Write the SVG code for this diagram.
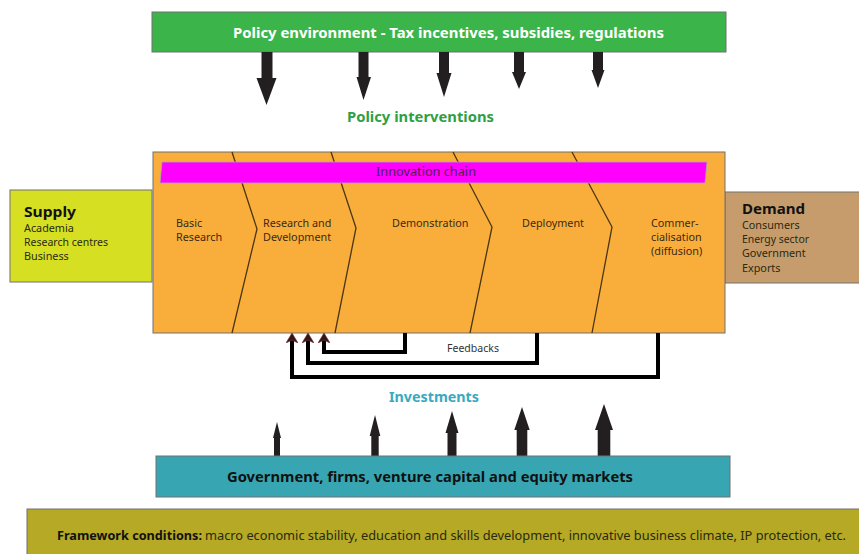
<svg xmlns="http://www.w3.org/2000/svg" width="859" height="554" viewBox="0 0 859 554">
<defs>
<style>
text{font-family:"Noto Sans","Open Sans","Liberation Sans",sans-serif}
.box{stroke:#707070;stroke-width:1}
.bold{font-weight:bold}
.stage{font-size:10.8px;fill:#3b2a12}
.side{font-size:10.8px;fill:#2a2a10}
.arrow{fill:#231f20}
.fb{fill:none;stroke:#000;stroke-width:4}
.div{fill:none;stroke:#4a3515;stroke-width:1.3}
</style>
<marker id="fbhead" viewBox="0 0 10 10" refX="3" refY="5" markerWidth="2.5" markerHeight="3" preserveAspectRatio="none" orient="auto" markerUnits="strokeWidth">
<path d="M0,0 L10,5 L0,10 L3,5 Z" fill="#2a1a1a" stroke="#8a2a2a" stroke-width="0.6"/>
</marker>
</defs>
<rect width="859" height="554" fill="#ffffff"/>

<g id="policy-environment">
<rect class="box" x="152" y="12" width="574" height="40" fill="#3bb54a"/>
<text x="233" y="38" class="bold" font-size="15" fill="#ffffff" textLength="431" lengthAdjust="spacingAndGlyphs">Policy environment - Tax incentives, subsidies, regulations</text>
</g>

<g id="policy-arrows">
<polygon class="arrow" points="261.5,52 272.5,52 272.5,78 276.5,78 266.5,105 256.5,78 261.5,78"/>
<polygon class="arrow" points="358.5,52 368.5,52 368.5,77 371,77 363.5,100 356.5,77 358.5,77"/>
<polygon class="arrow" points="439,52 449,52 449,73 451.5,73 444,97 436.5,73 439,73"/>
<polygon class="arrow" points="514,52 524,52 524,72 526,72 519,89 512,72 514,72"/>
<polygon class="arrow" points="593,52 603,52 603,70 604.5,70 598,88 591.5,70 593,70"/>
</g>

<g id="policy-interventions">
<text x="347" y="122" class="bold" font-size="15" fill="#2e9f45" textLength="147" lengthAdjust="spacingAndGlyphs">Policy interventions</text>
</g>

<g id="supply">
<rect class="box" x="10" y="190" width="142" height="92" fill="#d7df23"/>
<text x="24" y="217" class="bold" font-size="14" fill="#111" textLength="52" lengthAdjust="spacingAndGlyphs">Supply</text>
<text x="24" y="232" class="side">Academia</text>
<text x="24" y="246" class="side" textLength="84" lengthAdjust="spacingAndGlyphs">Research centres</text>
<text x="24" y="260" class="side">Business</text>
</g>

<g id="demand">
<rect class="box" x="725" y="192" width="140" height="91" fill="#c69c6d"/>
<text x="742" y="213.5" class="bold" font-size="14" fill="#111" textLength="63" lengthAdjust="spacingAndGlyphs">Demand</text>
<text x="742" y="229" class="side">Consumers</text>
<text x="742" y="243" class="side" textLength="67" lengthAdjust="spacingAndGlyphs">Energy sector</text>
<text x="742" y="257" class="side">Government</text>
<text x="742" y="271.5" class="side">Exports</text>
</g>

<g id="innovation-chain">
<rect class="box" x="153" y="152" width="572" height="181" fill="#f9ae3b"/>
<polyline class="div" points="232,152 257,229 232,333"/>
<polyline class="div" points="331,152 356,228 335,333"/>
<polyline class="div" points="453,152 492,227 470,333"/>
<polyline class="div" points="572,152 612,227 592,333"/>
<polygon points="162,162 707,162 705,183 160,183" fill="#ff00ff" stroke="#a8a8a8" stroke-width="0.8"/>
<text x="376" y="176" font-size="12.5" fill="#4b1f4f" textLength="100" lengthAdjust="spacingAndGlyphs">Innovation chain</text>
<text class="stage" x="176" y="227">Basic</text>
<text class="stage" x="176" y="241">Research</text>
<text class="stage" x="263" y="227">Research and</text>
<text class="stage" x="263" y="241">Development</text>
<text class="stage" x="392" y="227">Demonstration</text>
<text class="stage" x="522" y="227">Deployment</text>
<text class="stage" x="651" y="227">Commer-</text>
<text class="stage" x="651" y="241">cialisation</text>
<text class="stage" x="651" y="255">(diffusion)</text>
</g>

<g id="feedbacks">
<polyline class="fb" points="405,333 405,352 324,352 324,340" marker-end="url(#fbhead)"/>
<polyline class="fb" points="537,333 537,363 308,363 308,340" marker-end="url(#fbhead)"/>
<polyline class="fb" points="658,333 658,377 292,377 292,340" marker-end="url(#fbhead)"/>
<text x="447" y="352" font-size="11" fill="#333" textLength="52" lengthAdjust="spacingAndGlyphs">Feedbacks</text>
</g>

<g id="investments">
<text x="389" y="402" class="bold" font-size="15" fill="#3aaabf" textLength="90" lengthAdjust="spacingAndGlyphs">Investments</text>
</g>

<g id="investment-arrows">
<polygon class="arrow" points="274,456 280,456 280,438 281,438 277,422 273,438 274,438"/>
<polygon class="arrow" points="371.3,456 378.7,456 378.7,436 380.3,436 375,415 369.7,436 371.3,436"/>
<polygon class="arrow" points="447.5,456 456.5,456 456.5,433 458.5,433 452,411 445.5,433 447.5,433"/>
<polygon class="arrow" points="516.7,456 527.3,456 527.3,430 529.7,430 522,407 514.3,430 516.7,430"/>
<polygon class="arrow" points="597.7,456 610.3,456 610.3,430 613,430 604,404 595,430 597.7,430"/>
</g>

<g id="funders">
<rect class="box" x="156" y="456" width="574" height="41" fill="#37a6b2"/>
<text x="227" y="482" class="bold" font-size="15" fill="#111" textLength="406" lengthAdjust="spacingAndGlyphs">Government, firms, venture capital and equity markets</text>
</g>

<g id="framework">
<rect class="box" x="27" y="509" width="840" height="50" fill="#b5a926"/>
<text x="57" y="540" class="bold" font-size="12" fill="#111" textLength="145" lengthAdjust="spacingAndGlyphs">Framework conditions:</text>
<text x="205" y="540" font-size="12" fill="#2a2a10" textLength="641" lengthAdjust="spacingAndGlyphs">macro economic stability, education and skills development, innovative business climate, IP protection, etc.</text>
</g>
</svg>
